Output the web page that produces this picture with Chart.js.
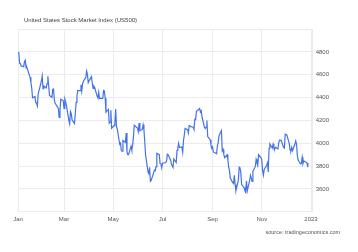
<!DOCTYPE html>
<html>
<head>
<meta charset="utf-8">
<script src="https://cdn.jsdelivr.net/npm/chart.js@4/dist/chart.umd.min.js"></script>
<style>
html,body{margin:0;padding:0;background:#fff;}
#wrap{width:358px;height:252px;}
</style>
</head>
<body>
<div id="wrap"><canvas id="c" width="358" height="252"></canvas></div>
<script>
const titleText = 'United States Stock Market Index (US500)';
const sourceText = 'source: tradingeconomics.com';

const dates = [
'01-03','01-04','01-05','01-06','01-07','01-10','01-11','01-12','01-13','01-14','01-18','01-19','01-20','01-21','01-24','01-25','01-26','01-27','01-28','01-31',
'02-01','02-02','02-03','02-04','02-07','02-08','02-09','02-10','02-11','02-14','02-15','02-16','02-17','02-18','02-22','02-23','02-24','02-25','02-28',
'03-01','03-02','03-03','03-04','03-07','03-08','03-09','03-10','03-11','03-14','03-15','03-16','03-17','03-18','03-21','03-22','03-23','03-24','03-25','03-28','03-29','03-30','03-31',
'04-01','04-04','04-05','04-06','04-07','04-08','04-11','04-12','04-13','04-14','04-18','04-19','04-20','04-21','04-22','04-25','04-26','04-27','04-28','04-29',
'05-02','05-03','05-04','05-05','05-06','05-09','05-10','05-11','05-12','05-13','05-16','05-17','05-18','05-19','05-20','05-23','05-24','05-25','05-26','05-27','05-31',
'06-01','06-02','06-03','06-06','06-07','06-08','06-09','06-10','06-13','06-14','06-15','06-16','06-17','06-21','06-22','06-23','06-24','06-27','06-28','06-29','06-30',
'07-01','07-05','07-06','07-07','07-08','07-11','07-12','07-13','07-14','07-15','07-18','07-19','07-20','07-21','07-22','07-25','07-26','07-27','07-28','07-29',
'08-01','08-02','08-03','08-04','08-05','08-08','08-09','08-10','08-11','08-12','08-15','08-16','08-17','08-18','08-19','08-22','08-23','08-24','08-25','08-26','08-29','08-30','08-31',
'09-01','09-02','09-06','09-07','09-08','09-09','09-12','09-13','09-14','09-15','09-16','09-19','09-20','09-21','09-22','09-23','09-26','09-27','09-28','09-29','09-30',
'10-03','10-04','10-05','10-06','10-07','10-10','10-11','10-12','10-13','10-14','10-17','10-18','10-19','10-20','10-21','10-24','10-25','10-26','10-27','10-28','10-31',
'11-01','11-02','11-03','11-04','11-07','11-08','11-09','11-10','11-11','11-14','11-15','11-16','11-17','11-18','11-21','11-22','11-23','11-25','11-28','11-29','11-30',
'12-01','12-02','12-05','12-06','12-07','12-08','12-09','12-12','12-13','12-14','12-15','12-16','12-19','12-20','12-21','12-22','12-23','12-27','12-28'
];

const values = [
4797,4794,4701,4696,4677,4670,4713,4726,4659,4663,4577,4533,4483,4398,4410,4356,4350,4327,4432,4516,
4547,4589,4477,4501,4484,4522,4587,4504,4419,4402,4471,4475,4380,4349,4305,4226,4289,4385,4374,
4306,4387,4363,4329,4201,4171,4278,4260,4204,4173,4262,4358,4412,4463,4461,4512,4456,4520,4543,4576,4632,4602,4530,
4546,4583,4525,4481,4500,4488,4413,4397,4447,4393,4392,4462,4459,4394,4272,4296,4175,4184,4288,4132,
4155,4175,4300,4147,4123,3991,4001,3935,3930,4024,4008,4089,3924,3901,3901,3974,3941,3979,4058,4158,4132,
4101,4177,4109,4121,4161,4116,4018,3901,3750,3735,3790,3667,3675,3765,3760,3796,3912,3900,3822,3819,3785,
3825,3831,3845,3903,3899,3854,3819,3802,3790,3863,3831,3937,3960,3999,3962,3967,3921,4024,4072,4130,
4119,4091,4155,4152,4145,4140,4122,4210,4207,4280,4297,4305,4274,4284,4228,4138,4129,4141,4199,4058,4031,3986,3955,
3967,3924,3908,3980,4006,4067,4110,3933,3946,3901,3873,3900,3856,3790,3758,3693,3655,3647,3719,3640,3586,
3678,3791,3783,3745,3640,3612,3589,3577,3670,3583,3678,3720,3695,3666,3753,3797,3859,3831,3807,3901,3872,
3856,3760,3720,3771,3807,3828,3749,3956,3993,3957,3992,3959,3947,3965,3950,4004,4027,4026,3964,3958,4080,
4077,4072,3999,3941,3934,3964,3934,3991,4020,3995,3896,3852,3818,3822,3878,3822,3845,3829,3792
];

const xTickDates = ['01-03','03-01','05-01','07-01','09-01','11-01','2023-01-01'];
const xTickLabels = ['Jan','Mar','May','Jul','Sep','Nov','2023'];
const yTicks = [3400,3600,3800,4000,4200,4400,4600,4800,5000];
const yLabelled = [3600,3800,4000,4200,4400,4600,4800];

const base = Date.UTC(2022,0,1);
function dayOf(s){
  const p = s.split('-').map(Number);
  if (p.length === 3) return Math.round((Date.UTC(p[0],p[1]-1,p[2]) - base)/86400000);
  return Math.round((Date.UTC(2022,p[0]-1,p[1]) - base)/86400000);
}
const points = dates.map((d,i)=>({x: dayOf(d), y: values[i]}));
const xTickDays = xTickDates.map(dayOf);

const FONT = '"Liberation Sans", Arial, sans-serif';
const gridColor = '#ebebeb';

const textPlugin = {
  id: 'texts',
  afterDraw(chart){
    const ctx = chart.ctx;
    ctx.save();
    ctx.fillStyle = '#444';
    ctx.font = '6px ' + FONT;
    ctx.textBaseline = 'middle';
    ctx.textAlign = 'left';
    ctx.fillText(titleText, 24, 20.5);
    ctx.fillStyle = '#555';
    ctx.font = '5.5px ' + FONT;
    ctx.fillText(sourceText, 265.5, 232.5);
    ctx.restore();
  }
};

new Chart(document.getElementById('c'), {
  type: 'line',
  data: {
    datasets: [{
      data: points,
      borderColor: '#4373e6',
      borderWidth: 1.2,
      pointRadius: 0,
      tension: 0,
      fill: false
    }]
  },
  options: {
    responsive: false,
    animation: false,
    devicePixelRatio: 1,
    layout: { padding: { left: 18, right: 26, top: 29, bottom: 25 } },
    plugins: { legend: { display: false }, tooltip: { enabled: false } },
    scales: {
      x: {
        type: 'linear',
        min: 2,
        max: 367,
        afterBuildTicks(axis){ axis.ticks = xTickDays.map(v=>({value:v})); },
        grid: { color: gridColor, drawTicks: false, lineWidth: 1 },
        border: { display: true, color: gridColor },
        ticks: {
          autoSkip: false, maxRotation: 0, padding: 4,
          color: '#555', font: { size: 6, family: FONT },
          callback(v){ const i = xTickDays.indexOf(v); return i >= 0 ? xTickLabels[i] : ''; }
        }
      },
      y: {
        position: 'right',
        min: 3400,
        max: 5000,
        afterBuildTicks(axis){ axis.ticks = yTicks.map(v=>({value:v})); },
        grid: { color: gridColor, drawTicks: false, lineWidth: 1 },
        border: { display: true, color: gridColor },
        ticks: {
          padding: 3,
          color: '#555', font: { size: 6, family: FONT },
          callback(v){ return yLabelled.includes(v) ? String(v) : ''; }
        }
      }
    }
  },
  plugins: [textPlugin]
});
</script>
</body>
</html>
